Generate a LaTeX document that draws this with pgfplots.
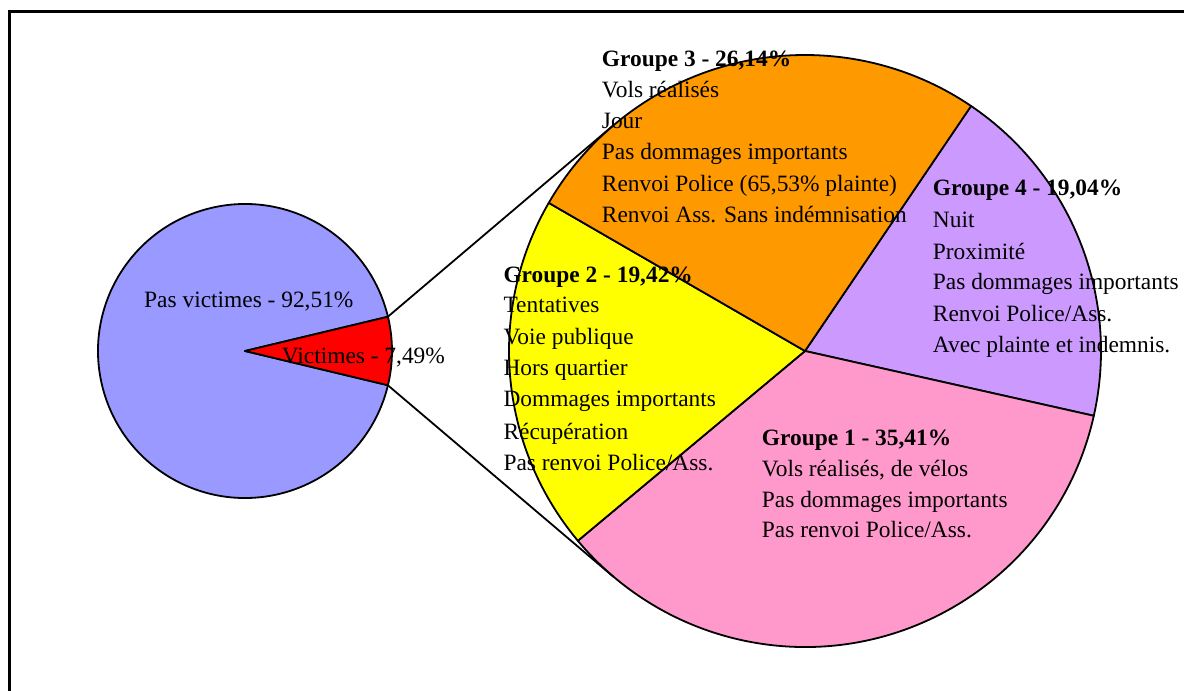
\documentclass[border=0pt]{standalone}
\usepackage{fontspec}
\setmainfont{Liberation Serif}
\usepackage{pgfplots}
\pgfplotsset{compat=1.18}
\definecolor{cBlue}{HTML}{9999FF}
\definecolor{cRed}{HTML}{FF0000}
\definecolor{cOrange}{HTML}{FF9900}
\definecolor{cYellow}{HTML}{FFFF00}
\definecolor{cPink}{HTML}{FF99CC}
\definecolor{cPurple}{HTML}{CC99FF}
\tikzset{lbl/.style={anchor=base west, inner sep=0pt, font=\fontsize{23.4}{28}\selectfont}}
% data (percent)
\def\pVict{7.49}
\def\pPas{92.51}
\def\gA{35.41}% Groupe 1
\def\gB{19.42}% Groupe 2
\def\gC{26.14}% Groupe 3
\def\gD{19.04}% Groupe 4
\def\startR{55.9}
\pgfmathsetmacro\aD{\startR-\gD*3.6}
\pgfmathsetmacro\aA{\aD-\gA*3.6}
\pgfmathsetmacro\aB{\aA-\gB*3.6}
\pgfmathsetmacro\aC{\aB-\gC*3.6}
\pgfmathsetmacro\vh{\pVict*1.8}
\pgfmathsetmacro\vhe{360-\vh}
\begin{document}
\begin{tikzpicture}
\begin{axis}[
  at={(0,0)}, anchor=south west,
  x=1pt, y=1pt,
  xmin=0, xmax=1184, ymin=0, ymax=691,
  hide axis, clip=false,
]
\addplot[draw=none] coordinates {(0,0) (1184,691)};
% frame
\draw[black, line width=3pt] (axis cs:9.5,-60) -- (axis cs:9.5,679) -- (axis cs:1260,679);
% left pie
\filldraw[fill=cBlue, draw=black, line width=1.8pt, line join=round]
  (axis cs:245,340) -- ++(\vh:147pt) arc[start angle=\vh, end angle=\vhe, radius=147pt] -- cycle;
\filldraw[fill=cRed, draw=black, line width=1.8pt, line join=round]
  (axis cs:245,340) -- ++(-\vh:147pt) arc[start angle=-\vh, end angle=\vh, radius=147pt] -- cycle;
% right pie
\filldraw[fill=cPurple, draw=black, line width=1.8pt, line join=round]
  (axis cs:805,340) -- ++(\startR:296pt) arc[start angle=\startR, end angle=\aD, radius=296pt] -- cycle;
\filldraw[fill=cPink, draw=black, line width=1.8pt, line join=round]
  (axis cs:805,340) -- ++(\aD:296pt) arc[start angle=\aD, end angle=\aA, radius=296pt] -- cycle;
\filldraw[fill=cYellow, draw=black, line width=1.8pt, line join=round]
  (axis cs:805,340) -- ++(\aA:296pt) arc[start angle=\aA, end angle=\aB, radius=296pt] -- cycle;
\filldraw[fill=cOrange, draw=black, line width=1.8pt, line join=round]
  (axis cs:805,340) -- ++(\aB:296pt) arc[start angle=\aB, end angle=\aC, radius=296pt] -- cycle;
% connector lines
\draw[black, line width=1.8pt] (axis cs:387.9,374.3) -- (axis cs:613.5,565.8);
\draw[black, line width=1.8pt] (axis cs:387.9,305.7) -- (axis cs:613.5,114.2);
% labels left
\node[lbl] at (axis cs:144,383.7) {Pas victimes - 92,51\%};
\node[lbl] at (axis cs:281.7,327.7) {Victimes - 7,49\%};
% Groupe 3
\node[lbl] at (axis cs:601.7,624.3) {\bfseries Groupe 3 - 26,14\%};
\node[lbl] at (axis cs:601.7,593) {Vols réalisés};
\node[lbl] at (axis cs:601.7,562) {Jour};
\node[lbl] at (axis cs:601.7,531) {Pas dommages importants};
\node[lbl] at (axis cs:601.7,499.5) {Renvoi Police (65,53\% plainte)};
\node[lbl] at (axis cs:601.7,468.3) {Renvoi Ass. Sans indémnisation};
% Groupe 2
\node[lbl] at (axis cs:503.3,408.3) {\bfseries Groupe 2 - 19,42\%};
\node[lbl] at (axis cs:503.3,378) {Tentatives};
\node[lbl] at (axis cs:503.3,346) {Voie publique};
\node[lbl] at (axis cs:503.3,315) {Hors quartier};
\node[lbl] at (axis cs:503.3,284) {Dommages importants};
\node[lbl] at (axis cs:503.3,251.7) {Récupération};
\node[lbl] at (axis cs:503.3,220.3) {Pas renvoi Police/Ass.};
% Groupe 4
\node[lbl] at (axis cs:932.7,495) {\bfseries Groupe 4 - 19,04\%};
\node[lbl] at (axis cs:932.7,463.3) {Nuit};
\node[lbl] at (axis cs:932.7,431.7) {Proximité};
\node[lbl] at (axis cs:932.7,401) {Pas dommages importants};
\node[lbl] at (axis cs:932.7,369.3) {Renvoi Police/Ass.};
\node[lbl] at (axis cs:932.7,338.3) {Avec plainte et indemnis.};
% Groupe 1
\node[lbl] at (axis cs:761.7,245) {\bfseries Groupe 1 - 35,41\%};
\node[lbl] at (axis cs:761.7,214) {Vols réalisés, de vélos};
\node[lbl] at (axis cs:761.7,183.5) {Pas dommages importants};
\node[lbl] at (axis cs:761.7,153) {Pas renvoi Police/Ass.};
\end{axis}
\pgfresetboundingbox
\path[use as bounding box] (0,0) rectangle (1184pt,691pt);
\end{tikzpicture}
\end{document}
